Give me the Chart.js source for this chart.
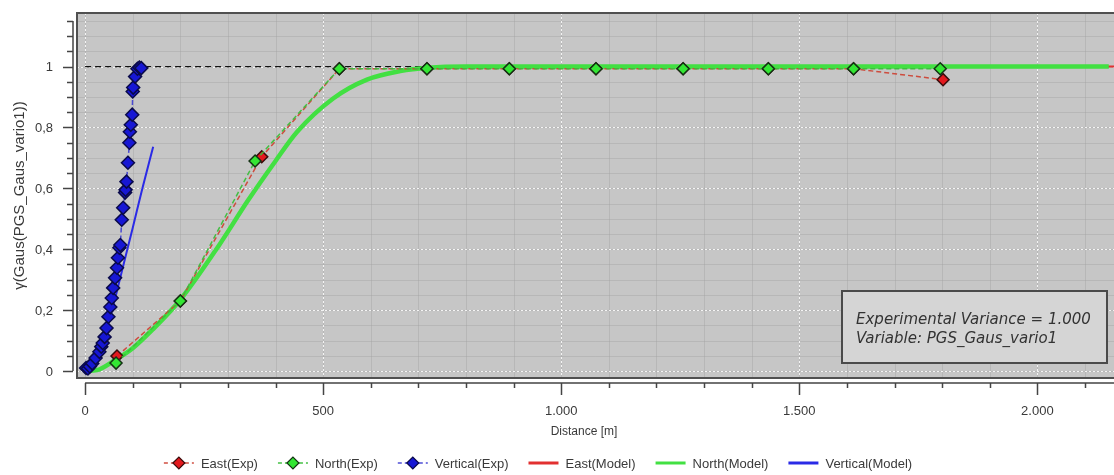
<!DOCTYPE html>
<html>
<head>
<meta charset="utf-8">
<title>Variogram</title>
<script src="https://cdn.jsdelivr.net/npm/chart.js@4.4.1/dist/chart.umd.min.js"></script>
<style>
  html, body { margin: 0; padding: 0; background: #fff; }
  #wrap { width: 1114px; height: 475px; }
</style>
</head>
<body>
<div id="wrap"><canvas id="vario" width="1114" height="475"></canvas></div>
<script>
// experimental variogram, East direction
const eastExpLag = [67, 200, 371, 534, 718, 891, 1073, 1256, 1435, 1614, 1802];
const eastExpGamma = [0.049, 0.23, 0.704, 0.993, 0.993, 0.993, 0.993, 0.993, 0.993, 0.993, 0.957];

// experimental variogram, North direction
const northExpLag = [65, 200, 357, 534, 718, 891, 1073, 1256, 1435, 1614, 1796];
const northExpGamma = [0.026, 0.23, 0.69, 0.993, 0.993, 0.993, 0.993, 0.993, 0.993, 0.993, 0.993];

// experimental variogram, Vertical direction
const vertExpLag = [2, 6, 10, 15, 22, 30, 34, 37, 41, 45, 49, 53, 56, 59, 63, 67, 69, 72, 74, 77,
  80, 84, 85, 87, 90, 93, 94, 96, 99, 100, 101, 105, 110, 114, 118];
const vertExpGamma = [0.010, 0.008, 0.015, 0.025, 0.043, 0.063, 0.080, 0.092, 0.112, 0.141, 0.178,
  0.210, 0.240, 0.273, 0.306, 0.339, 0.372, 0.405, 0.414, 0.497, 0.536, 0.586, 0.595, 0.622, 0.684,
  0.750, 0.786, 0.809, 0.842, 0.918, 0.931, 0.967, 0.993, 0.997, 0.995];

// fitted gaussian models
const eastModelLag = [0, 25, 63, 100, 141, 200, 280, 342, 400, 445, 521, 592, 662, 720, 800, 2170];
const eastModelGamma = [0, 0.003, 0.036, 0.075, 0.135, 0.234, 0.41, 0.56, 0.69, 0.785, 0.895, 0.957, 0.985, 0.996, 1.0, 1.0];
const northModelLag = [0, 25, 63, 100, 141, 200, 280, 342, 400, 445, 521, 592, 662, 720, 800, 2150];
const northModelGamma = [0, 0.003, 0.036, 0.075, 0.135, 0.234, 0.41, 0.56, 0.69, 0.785, 0.895, 0.957, 0.985, 0.996, 1.0, 1.0];
const vertModelLag = [0, 20, 40, 60, 80, 100, 120, 143];
const vertModelGamma = [0, 0.03, 0.11, 0.22, 0.345, 0.47, 0.598, 0.737];

// sill (experimental variance)
const sillLag = [0, 2170];
const sillGamma = [1, 1];

// axes
const xMajorTicks = [0, 500, 1000, 1500, 2000];
const xTickLabels = ['0', '500', '1.000', '1.500', '2.000'];
const yMajorTicks = [0, 0.2, 0.4, 0.6, 0.8, 1];
const yTickLabels = ['0', '0,2', '0,4', '0,6', '0,8', '1'];
const xTitle = 'Distance [m]';
const yTitle = 'γ(Gaus(PGS_Gaus_vario1))';
const infoLines = ['Experimental Variance = 1.000', 'Variable: PGS_Gaus_vario1'];

const xMinorTicks = [];
for (let v = 0; v <= 2100; v += 100) xMinorTicks.push(v);
const yMinorTicks = [];
for (let i = 0; i <= 23; i++) yMinorTicks.push(Math.round(i * 5) / 100);

const pts = (xs, ys) => xs.map((x, i) => ({ x, y: ys[i] }));

const FONT = '"Liberation Sans", Arial, sans-serif';
const TEXT = '#3a3a3a';

const expStyle = (line, fill, edge) => ({
  borderColor: line,
  borderWidth: 1.5,
  borderDash: [5, 3],
  pointStyle: 'rectRot',
  pointRadius: 6,
  pointBackgroundColor: fill,
  pointBorderColor: edge,
  pointBorderWidth: 1.5,
  tension: 0,
  order: 1
});

const modelStyle = (color, width) => ({
  borderColor: color,
  borderWidth: width,
  pointRadius: 0,
  cubicInterpolationMode: 'monotone',
  order: 5
});

// plot background, grid lines
const backdrop = {
  id: 'backdrop',
  beforeDatasetsDraw(chart) {
    const { ctx, chartArea: a, scales: { x, y } } = chart;
    ctx.save();
    ctx.fillStyle = '#c6c6c6';
    ctx.fillRect(a.left, a.top, a.right - a.left, a.bottom - a.top);

    ctx.lineWidth = 1;
    ctx.strokeStyle = 'rgba(160,160,160,0.4)';
    ctx.beginPath();
    xMinorTicks.forEach((v) => {
      const px = Math.round(x.getPixelForValue(v)) + 0.5;
      ctx.moveTo(px, a.top); ctx.lineTo(px, a.bottom);
    });
    yMinorTicks.forEach((v) => {
      const py = Math.round(y.getPixelForValue(v)) + 0.5;
      ctx.moveTo(a.left, py); ctx.lineTo(a.right, py);
    });
    ctx.stroke();

    ctx.strokeStyle = 'rgba(255,255,255,0.85)';
    ctx.setLineDash([2, 2]);
    ctx.beginPath();
    xMajorTicks.forEach((v) => {
      const px = Math.round(x.getPixelForValue(v)) + 0.5;
      ctx.moveTo(px, a.top); ctx.lineTo(px, a.bottom);
    });
    yMajorTicks.forEach((v) => {
      const py = Math.round(y.getPixelForValue(v)) + 0.5;
      ctx.moveTo(a.left, py); ctx.lineTo(a.right, py);
    });
    ctx.stroke();
    ctx.restore();
  },

  afterDatasetsDraw(chart) {
    const { ctx, chartArea: a, scales: { x, y } } = chart;
    ctx.save();

    // frame
    ctx.strokeStyle = '#505050';
    ctx.lineWidth = 2;
    ctx.strokeRect(a.left, a.top, a.right - a.left + 4, a.bottom - a.top);

    // y axis, detached left of the frame
    const axX = a.left - 4;
    ctx.strokeStyle = '#444';
    ctx.lineWidth = 1.5;
    ctx.beginPath();
    ctx.moveTo(axX, y.getPixelForValue(1.15));
    ctx.lineTo(axX, y.getPixelForValue(0));
    yMinorTicks.forEach((v) => {
      const py = Math.round(y.getPixelForValue(v)) + 0.5;
      const len = yMajorTicks.includes(v) ? 10 : 6;
      ctx.moveTo(axX - len, py); ctx.lineTo(axX, py);
    });
    ctx.stroke();

    ctx.fillStyle = TEXT;
    ctx.font = '13px ' + FONT;
    ctx.textAlign = 'right';
    ctx.textBaseline = 'middle';
    yMajorTicks.forEach((v, i) => ctx.fillText(yTickLabels[i], axX - 20, y.getPixelForValue(v) + 1));

    // x axis, detached below the frame
    const axY = a.bottom + 5;
    ctx.beginPath();
    ctx.moveTo(x.getPixelForValue(0), axY);
    ctx.lineTo(a.right, axY);
    xMinorTicks.forEach((v) => {
      const px = Math.round(x.getPixelForValue(v)) + 0.5;
      const len = xMajorTicks.includes(v) ? 12 : 5;
      ctx.moveTo(px, axY); ctx.lineTo(px, axY + len);
    });
    ctx.stroke();

    ctx.textAlign = 'center';
    xMajorTicks.forEach((v, i) => ctx.fillText(xTickLabels[i], x.getPixelForValue(v), axY + 28));

    // axis titles
    ctx.font = '12px ' + FONT;
    ctx.fillText(xTitle, 584, 432);
    ctx.save();
    ctx.translate(20, (a.top + a.bottom) / 2);
    ctx.rotate(-Math.PI / 2);
    ctx.font = '15px ' + FONT;
    ctx.fillText(yTitle, 0, 0);
    ctx.restore();

    // info box
    const bx = 842, by = 291, bw = 265, bh = 72;
    ctx.fillStyle = '#d5d5d5';
    ctx.fillRect(bx, by, bw, bh);
    ctx.strokeStyle = '#4a4a4a';
    ctx.lineWidth = 2;
    ctx.strokeRect(bx, by, bw, bh);
    ctx.fillStyle = '#333';
    ctx.font = 'italic 15px "DejaVu Sans", sans-serif';
    ctx.textAlign = 'left';
    ctx.textBaseline = 'alphabetic';
    ctx.fillText(infoLines[0], 856, 324);
    ctx.fillText(infoLines[1], 856, 343);

    // legend
    ctx.font = '13px ' + FONT;
    ctx.textBaseline = 'middle';
    const items = chart.data.datasets.filter((d) => d.legend);
    const symW = 30, gap = 7, space = 20;
    const widths = items.map((d) => symW + gap + ctx.measureText(d.label).width);
    const total = widths.reduce((s, w) => s + w, 0) + space * (items.length - 1);
    let lx = 538 - total / 2;
    const ly = 463;
    items.forEach((d, i) => {
      ctx.save();
      ctx.strokeStyle = d.borderColor;
      if (d.legend === 'exp') {
        ctx.lineWidth = 1.5;
        ctx.setLineDash([4, 3]);
        ctx.beginPath();
        ctx.moveTo(lx, ly); ctx.lineTo(lx + symW, ly);
        ctx.stroke();
        ctx.setLineDash([]);
        const cx = lx + symW / 2, r = 6;
        ctx.beginPath();
        ctx.moveTo(cx - r, ly); ctx.lineTo(cx, ly - r); ctx.lineTo(cx + r, ly); ctx.lineTo(cx, ly + r);
        ctx.closePath();
        ctx.fillStyle = d.pointBackgroundColor;
        ctx.fill();
        ctx.strokeStyle = d.pointBorderColor;
        ctx.lineWidth = 1.2;
        ctx.stroke();
      } else {
        ctx.lineWidth = 3;
        ctx.beginPath();
        ctx.moveTo(lx, ly); ctx.lineTo(lx + symW, ly);
        ctx.stroke();
      }
      ctx.restore();
      ctx.fillStyle = TEXT;
      ctx.textAlign = 'left';
      ctx.fillText(d.label, lx + symW + gap, ly + 1);
      lx += widths[i] + space;
    });

    ctx.restore();
  }
};

const chart = new Chart(document.getElementById('vario'), {
  type: 'line',
  data: {
    datasets: [
      { label: 'East(Exp)', legend: 'exp', data: pts(eastExpLag, eastExpGamma),
        ...expStyle('rgba(205,70,55,0.95)', '#e3191e', '#3a0c0c') },
      { label: 'North(Exp)', legend: 'exp', data: pts(northExpLag, northExpGamma),
        ...expStyle('rgba(60,190,60,0.95)', '#33e633', '#143214'), order: 0 },
      { label: 'Vertical(Exp)', legend: 'exp', data: pts(vertExpLag, vertExpGamma),
        ...expStyle('rgba(60,60,210,0.9)', '#1717d4', '#0a0a4a'), pointRadius: 6.5 },
      { label: 'East(Model)', legend: 'model', data: pts(eastModelLag, eastModelGamma),
        ...modelStyle('#e23030', 2), order: 6 },
      { label: 'North(Model)', legend: 'model', data: pts(northModelLag, northModelGamma),
        ...modelStyle('#42e042', 4.5) },
      { label: 'Vertical(Model)', legend: 'model', data: pts(vertModelLag, vertModelGamma),
        ...modelStyle('#2a2ae6', 2) },
      { label: 'Sill', data: pts(sillLag, sillGamma),
        borderColor: '#111', borderWidth: 1.3, borderDash: [6, 4], pointRadius: 0, order: 10 }
    ]
  },
  options: {
    responsive: false,
    animation: false,
    events: [],
    layout: { autoPadding: false, padding: { left: 77, top: 13, right: 0, bottom: 97 } },
    plugins: { legend: { display: false }, tooltip: { enabled: false } },
    scales: {
      x: { type: 'linear', min: -17, max: 2161, display: false },
      y: { type: 'linear', min: -0.023, max: 1.176, display: false }
    }
  },
  plugins: [backdrop]
});
</script>
</body>
</html>
